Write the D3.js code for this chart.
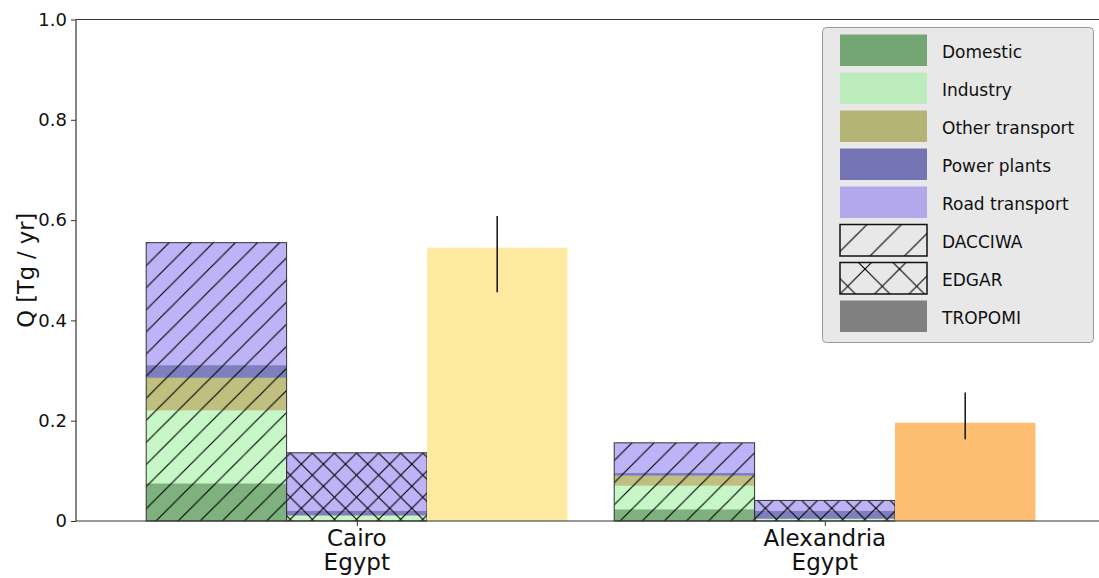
<!DOCTYPE html>
<html>
<head>
<meta charset="utf-8">
<script src="https://cdn.jsdelivr.net/npm/d3@7"></script>
<style>
  html, body { margin: 0; padding: 0; background: #fff; }
  svg { display: block; font-family: "DejaVu Sans", sans-serif; }
</style>
</head>
<body>
<svg id="chart" width="1099" height="578"></svg>
<script>
// City groups and their country line under the tick
const cities = ["Cairo", "Alexandria"];
const countries = ["Egypt", "Egypt"];

// Emission sectors (stacked, bottom to top)
const sectors = ["Domestic", "Industry", "Other transport", "Power plants", "Road transport"];
const sectorColors = ["darkgreen", "lightgreen", "olive", "navy", "mediumslateblue"];

// Inventory values per sector [Tg / yr]
const dacciwaCairo = [0.075, 0.1455, 0.065, 0.0253, 0.2442];
const dacciwaAlexandria = [0.0233, 0.047, 0.020, 0.0056, 0.060];
const edgarCairo = [0.001, 0.0095, 0.0005, 0.0094, 0.1156];
const edgarAlexandria = [0.0005, 0.0035, 0.0005, 0.016, 0.0205];

// Satellite-derived estimates with uncertainty range [Tg / yr]
const tropomi = [0.545, 0.196];
const tropomiLow = [0.456, 0.163];
const tropomiHigh = [0.608, 0.256];
const tropomiColors = ["#fdeaa0", "#fdbe72"];

const yTicks = [0, 0.2, 0.4, 0.6, 0.8, 1.0];
const yTickLabels = ["0", "0.2", "0.4", "0.6", "0.8", "1.0"];

const legendItems = [
  ...sectors.map((s, i) => ({ label: s, kind: "fill", color: sectorColors[i] })),
  { label: "DACCIWA", kind: "hatch", pattern: "legDiag" },
  { label: "EDGAR", kind: "hatch", pattern: "legCross" },
  { label: "TROPOMI", kind: "solid", color: "gray" }
];

const svg = d3.select("#chart");
const barWidth = 0.3;

const x = d3.scaleLinear().domain([-0.6, 1.6]).range([76, 1105.6]);
const y = d3.scaleLinear().domain([0, 1]).range([521, 19.5]);

// Hatch patterns
const defs = svg.append("defs");
function hatch(id, size, cross, ox, oy) {
  const p = defs.append("pattern")
    .attr("id", id)
    .attr("patternUnits", "userSpaceOnUse")
    .attr("width", size).attr("height", size)
    .attr("x", ox).attr("y", oy);
  const g = p.append("g").attr("stroke", "#000").attr("stroke-width", 1.1).attr("fill", "none");
  const segs = [[0, size, size, 0], [-size / 2, size / 2, size / 2, -size / 2], [size / 2, size * 1.5, size * 1.5, size / 2]];
  if (cross) segs.push([0, 0, size, size], [-size / 2, size / 2, size / 2, size * 1.5], [size / 2, -size / 2, size * 1.5, size / 2]);
  segs.forEach(s => g.append("line").attr("x1", s[0]).attr("y1", s[1]).attr("x2", s[2]).attr("y2", s[3]));
}
hatch("diag", 22.1, false, 14, 0);
hatch("cross", 22.1, true, 14, 0);
hatch("legDiag", 34.5, false, 0, 0);
hatch("legCross", 34.5, true, 8, 0);

const plot = svg.append("g");

// Stacked inventory bars
function stackedBar(values, center, offset, patternId) {
  const x0 = x(center + offset - barWidth / 2);
  const w = x(center + offset + barWidth / 2) - x0;
  let cum = 0;
  values.forEach((v, i) => {
    plot.append("rect")
      .attr("x", x0).attr("width", w)
      .attr("y", y(cum + v)).attr("height", y(cum) - y(cum + v))
      .attr("fill", sectorColors[i]).attr("fill-opacity", 0.5);
    cum += v;
  });
  plot.append("rect")
    .attr("x", x0).attr("width", w)
    .attr("y", y(cum)).attr("height", y(0) - y(cum))
    .attr("fill", `url(#${patternId})`)
    .attr("stroke", "#333").attr("stroke-width", 1);
}

const dacciwa = [dacciwaCairo, dacciwaAlexandria];
const edgar = [edgarCairo, edgarAlexandria];
cities.forEach((c, i) => {
  stackedBar(dacciwa[i], i, -barWidth, "diag");
  stackedBar(edgar[i], i, 0, "cross");
  const x0 = x(i + barWidth - barWidth / 2);
  plot.append("rect")
    .attr("x", x0).attr("width", x(i + barWidth + barWidth / 2) - x0)
    .attr("y", y(tropomi[i])).attr("height", y(0) - y(tropomi[i]))
    .attr("fill", tropomiColors[i]);
  plot.append("line")
    .attr("x1", x(i + barWidth)).attr("x2", x(i + barWidth))
    .attr("y1", y(tropomiLow[i])).attr("y2", y(tropomiHigh[i]))
    .attr("stroke", "#111").attr("stroke-width", 1.5);
});

// Axes
const yAxis = d3.axisLeft(y).tickValues(yTicks).tickFormat((d, i) => yTickLabels[i]).tickSize(5).tickPadding(4);
const gy = svg.append("g").attr("transform", `translate(${x(-0.6)},0)`).call(yAxis);
gy.select(".domain").remove();
gy.selectAll(".tick line").attr("stroke", "#333");
gy.selectAll(".tick text").attr("font-size", 18).attr("fill", "#111").attr("font-family", "DejaVu Sans");

const xAxis = d3.axisBottom(x).tickValues([0, 1]).tickFormat("").tickSize(5);
const gx = svg.append("g").attr("transform", `translate(0,${y(0)})`).call(xAxis);
gx.select(".domain").remove();
gx.selectAll(".tick line").attr("stroke", "#333");

cities.forEach((c, i) => {
  const t = svg.append("text")
    .attr("x", x(i)).attr("text-anchor", "middle")
    .attr("font-size", 23).attr("fill", "#111");
  t.append("tspan").attr("x", x(i)).attr("y", 546).text(c);
  t.append("tspan").attr("x", x(i)).attr("y", 570).text(countries[i]);
});

// Spines
const spines = svg.append("g").attr("stroke", "#333").attr("stroke-width", 1.2);
spines.append("line").attr("x1", x(-0.6)).attr("x2", x(1.6)).attr("y1", y(0)).attr("y2", y(0));
spines.append("line").attr("x1", x(-0.6)).attr("x2", x(1.6)).attr("y1", y(1)).attr("y2", y(1));
spines.append("line").attr("x1", x(-0.6)).attr("x2", x(-0.6)).attr("y1", y(0)).attr("y2", y(1));

// Y label
svg.append("text")
  .attr("transform", `translate(34,${(y(0) + y(1)) / 2}) rotate(-90)`)
  .attr("text-anchor", "middle")
  .attr("font-size", 22.5).attr("fill", "#111")
  .text("Q [Tg / yr]");

// Legend
const legend = svg.append("g").attr("transform", "translate(822.5,27.5)");
legend.append("rect")
  .attr("width", 271).attr("height", 315).attr("rx", 4)
  .attr("fill", "#e8e8e8").attr("stroke", "#999").attr("stroke-width", 1);
legendItems.forEach((d, i) => {
  const gy0 = 7 + i * 38;
  const r = legend.append("rect")
    .attr("x", 17.5).attr("y", gy0).attr("width", 87).attr("height", 31.5);
  if (d.kind === "fill") r.attr("fill", d.color).attr("fill-opacity", 0.5);
  else if (d.kind === "solid") r.attr("fill", d.color);
  else r.attr("fill", `url(#${d.pattern})`).attr("stroke", "#111").attr("stroke-width", 1.5);
  legend.append("text")
    .attr("x", 119.5).attr("y", gy0 + 18).attr("dy", "0.35em")
    .attr("font-size", 17).attr("fill", "#111")
    .text(d.label);
});
</script>
</body>
</html>
